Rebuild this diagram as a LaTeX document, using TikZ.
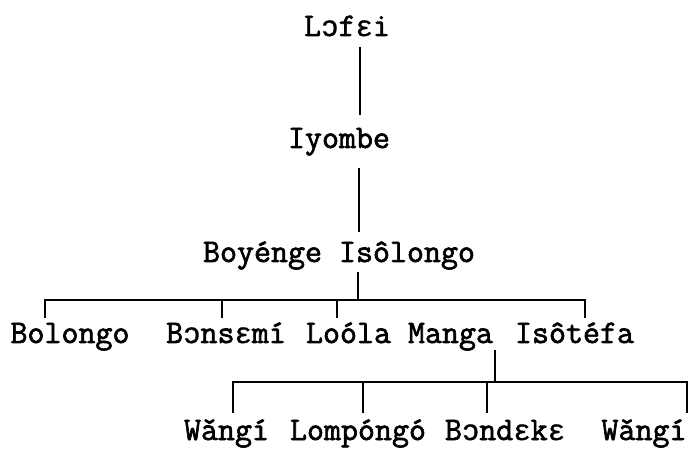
\documentclass[tikz,border=0pt]{standalone}
\usepackage{fontspec}
\setmainfont{Latin Modern Mono}[FakeBold=2]
\newfontfamily\ipafont{Liberation Mono}[FakeBold=1.2]
\newcommand{\ipaE}{{\fontsize{29}{30}\ipafont ɛ}}
\newcommand{\ipaO}{{\fontsize{29}{30}\ipafont ɔ}}
\usetikzlibrary{calc}
\begin{document}
\begin{tikzpicture}[x=1pt,y=-1pt,
  person/.style={font=\fontsize{33}{34}\selectfont, anchor=base, inner sep=0pt},
  tree/.style={line width=2.2pt, black}]
\useasboundingbox (0,0) rectangle (689,449);
% row 0-2
\node[person] (lofei)   at (347,36)  {L\ipaO f\ipaE i};
\node[person] (iyombe)  at (339,148) {Iyombe};
\node[person] (boyenge) at (339,262) {Boyénge Isôlongo};
% row 3
\node[person] (bolongo) at (70,343)    {Bolongo};
\node[person] (bonsemi) at (226,343)   {B\ipaO ns\ipaE mí};
\node[person] (loola)   at (399.5,343) {Loóla Manga};
\node[person] (isotefa) at (574.5,343) {Isôtéfa};
% row 4
\node[person] (wangia)   at (226.5,440) {Wǎngí};
\node[person] (lompongo) at (358,440)   {Lompóngó};
\node[person] (bondeke)  at (505,440)   {B\ipaO nd\ipaE k\ipaE};
\node[person] (wangib)   at (644,440)   {Wǎngí};
% trunk
\draw[tree] ($(lofei.base)+(13,11)$) -- ($(iyombe.base)+(21,-33)$);
\draw[tree] ($(iyombe.base)+(20,20)$) -- ($(boyenge.base)+(20,-30)$);
% first bus
\coordinate (bus1) at (358,300);
\draw[tree] ($(boyenge.base)+(19,10)$) -- (bus1);
\draw[tree] ($(bolongo.base)+(-25,-25)$) |- (bus1);
\draw[tree] ($(bonsemi.base)+(-4,-25)$) |- (bus1);
\draw[tree] ($(loola.base)+(-62.5,-25)$) |- (bus1);
\draw[tree] ($(isotefa.base)+(10.5,-25)$) |- (bus1);
% second bus
\coordinate (bus2) at (495,382);
\draw[tree] ($(loola.base)+(95.5,7)$) -- (bus2);
\draw[tree] ($(wangia.base)+(6.5,-27)$) |- (bus2);
\draw[tree] ($(lompongo.base)+(5,-27)$) |- (bus2);
\draw[tree] ($(bondeke.base)+(-18,-27)$) |- (bus2);
\draw[tree] ($(wangib.base)+(43,-27)$) |- (bus2);
\end{tikzpicture}
\end{document}
